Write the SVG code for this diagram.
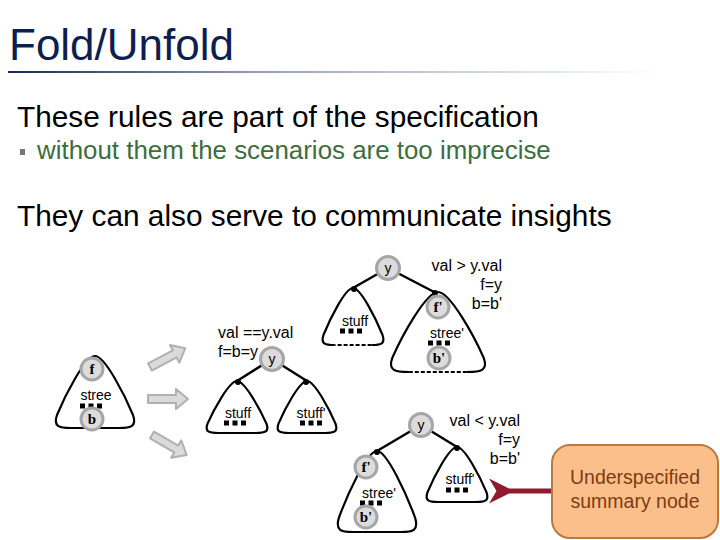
<svg xmlns="http://www.w3.org/2000/svg" xmlns:xlink="http://www.w3.org/1999/xlink" width="720" height="540" viewBox="0 0 720 540">
<style>
.title{font-family:"Liberation Sans",Arial,sans-serif;font-size:44px;fill:#0d1f4f}
.h1{font-family:"Liberation Sans",Arial,sans-serif;font-size:29.8px;fill:#000}
.h2{font-family:"Liberation Sans",Arial,sans-serif;font-size:25.9px;fill:#3d6e3d}
.tri{fill:none;stroke:#000;stroke-width:2.2;stroke-linejoin:round}
.dash{fill:none;stroke:#000;stroke-width:2.2;stroke-dasharray:4 2}
.lbl{font-family:"Liberation Sans",Arial,sans-serif;font-size:14px;fill:#000;text-anchor:middle}
.cond{font-family:"Liberation Sans",Arial,sans-serif;font-size:16px;fill:#000}
.nd{fill:#dcdcdc;stroke:#a6a6a6;stroke-width:3}
.nl{font-family:"Liberation Serif","Times New Roman",serif;font-weight:bold;font-size:15px;fill:#000;text-anchor:middle}
.ny{font-family:"Liberation Sans",Arial,sans-serif;font-size:14px;fill:#000;text-anchor:middle}
.edge{stroke:#000;stroke-width:2.5;fill:none}
.ga{fill:#dadada;stroke:#b0b0b0;stroke-width:2;stroke-linejoin:round}
.box{fill:#fbbf8c;stroke:#b87a3f;stroke-width:2}
.boxt{font-family:"Liberation Sans",Arial,sans-serif;font-size:19.5px;fill:#7b3d12;text-anchor:middle}
</style>
<defs>
<linearGradient id="ul" x1="0" y1="0" x2="1" y2="0">
<stop offset="0" stop-color="#1a2a50"/>
<stop offset="0.4" stop-color="#9aa4b8"/>
<stop offset="1" stop-color="#ffffff"/>
</linearGradient>
<g id="dots"><rect x="-11" y="-2.5" width="5" height="5"/><rect x="-2.5" y="-2.5" width="5" height="5"/><rect x="6" y="-2.5" width="5" height="5"/></g>
<polygon id="garrow" class="ga" points="0,-4 28,-4 28,-10 40,0 28,10 28,4 0,4"/>
<marker id="redhead" viewBox="0 0 10 10" refX="2" refY="5" markerWidth="5" markerHeight="5" orient="auto-start-reverse" markerUnits="strokeWidth">
<path d="M0,5 L10,0 L7,5 L10,10 Z" fill="#8e1b2e"/>
</marker>
</defs>
<rect width="720" height="540" fill="#fff"/>

<g id="header">
<text class="title" x="9" y="60">Fold/Unfold</text>
<rect x="8" y="71" width="650" height="2" fill="url(#ul)"/>
<text class="h1" x="17" y="127">These rules are part of the specification</text>
<rect x="20" y="149" width="5" height="6" fill="#6b7f6b"/>
<text class="h2" x="37" y="159">without them the scenarios are too imprecise</text>
<text class="h1" x="17" y="226">They can also serve to communicate insights</text>
</g>

<g id="connectors">
<line class="edge" x1="272" y1="359" x2="237" y2="381"/>
<line class="edge" x1="272" y1="359" x2="307" y2="381"/>
<circle cx="238" cy="382" r="3"/><circle cx="306" cy="382" r="3"/>
<line class="edge" x1="388" y1="268" x2="353" y2="288"/>
<line class="edge" x1="388" y1="268" x2="436" y2="293"/>
<circle cx="354" cy="289" r="3"/><circle cx="435" cy="293" r="3"/>
<line class="edge" x1="421" y1="425" x2="377" y2="451"/>
<line class="edge" x1="421" y1="425" x2="457" y2="447"/>
<circle cx="377" cy="452" r="3"/><circle cx="457" cy="448" r="3"/>
<use xlink:href="#garrow" href="#garrow" transform="translate(150,367) rotate(-28)"/>
<use xlink:href="#garrow" href="#garrow" transform="translate(148,399)"/>
<use xlink:href="#garrow" href="#garrow" transform="translate(152,435) rotate(30)"/>
<line x1="553" y1="491" x2="509" y2="491" stroke="#8e1b2e" stroke-width="5" marker-end="url(#redhead)"/>
</g>

<g id="node-stree">
<path class="tri" d="M95,356 C105,356 125,395.6 133,415 C137,426.6 131,428 119,428 L71,428 C59,428 53,426.6 57,415 C65,395.6 85,356 95,356Z"/>
<text class="lbl" x="96" y="400">stree</text>
<use xlink:href="#dots" href="#dots" x="91" y="406"/>
<circle class="nd" cx="92" cy="369" r="11"/><text class="nl" x="92" y="374">f</text>
<circle class="nd" cx="92" cy="419" r="11"/><text class="nl" x="92" y="424">b</text>
</g>

<g id="node-eq">
<text class="cond" x="218" y="338">val ==y.val</text>
<text class="cond" x="218" y="357">f=b=y</text>
<circle class="nd" cx="272" cy="359" r="11.5"/><text class="ny" x="272" y="363.5">y</text>
</g>
<g id="node-eq-left">
<path class="tri" d="M237,381 C244.75,381 260.25,409.6 266.45,423.6 C269.55,432 264.9,433 255.6,433 L218.4,433 C209.1,433 204.45,432 207.55,423.6 C213.75,409.6 229.25,381 237,381Z"/>
<text class="lbl" x="238" y="418">stuff</text>
<use xlink:href="#dots" href="#dots" x="235" y="423"/>
</g>
<g id="node-eq-right">
<path class="tri" d="M307,381 C314.5,381 329.5,409.6 335.5,423.6 C338.5,432 334,433 325,433 L289,433 C280,433 275.5,432 278.5,423.6 C284.5,409.6 299.5,381 307,381Z"/>
<text class="lbl" x="311" y="418">stuff'</text>
<use xlink:href="#dots" href="#dots" x="311" y="423"/>
</g>

<g id="node-gt">
<circle class="nd" cx="388" cy="268" r="11.5"/><text class="ny" x="388" y="272.5">y</text>
<text class="cond" x="502" y="271" text-anchor="end">val &gt; y.val</text>
<text class="cond" x="502" y="290" text-anchor="end">f=y</text>
<text class="cond" x="502" y="309" text-anchor="end">b=b'</text>
</g>
<g id="node-gt-left">
<path class="tri" d="M334.4,345 C325.1,345 320.45,343.86 323.55,334.74 C329.75,319.35 345.25,288 353,288 C360.75,288 376.25,319.35 382.45,334.74 C385.55,343.86 380.9,345 371.6,345"/>
<path class="dash" d="M371.6,345 L334.4,345"/>
<text class="lbl" x="355" y="326">stuff</text>
<use xlink:href="#dots" href="#dots" x="351" y="331"/>
</g>
<g id="node-gt-right">
<path class="tri" d="M409.2,372 C394.8,372 387.6,370.4 392.4,357.6 C402,336 426,292 438,292 C450,292 474,336 483.6,357.6 C488.4,370.4 481.2,372 466.8,372"/>
<path class="dash" d="M466.8,372 L409.2,372"/>
<text class="lbl" x="447" y="338">stree'</text>
<use xlink:href="#dots" href="#dots" x="439" y="343"/>
<circle class="nd" cx="438" cy="307" r="11"/><text class="nl" x="438" y="312">f'</text>
<circle class="nd" cx="439" cy="358" r="11"/><text class="nl" x="439" y="363">b'</text>
</g>

<g id="node-lt">
<circle class="nd" cx="421" cy="425" r="11.5"/><text class="ny" x="421" y="429.5">y</text>
<text class="cond" x="520" y="426" text-anchor="end">val &lt; y.val</text>
<text class="cond" x="520" y="445" text-anchor="end">f=y</text>
<text class="cond" x="520" y="464" text-anchor="end">b=b'</text>
</g>
<g id="node-lt-left">
<path class="tri" d="M377,451 C387,451 407,495.55 415,517.42 C419,530.38 413,532 401,532 L353,532 C341,532 335,530.38 339,517.42 C347,495.55 367,451 377,451Z"/>
<text class="lbl" x="379" y="498">stree'</text>
<use xlink:href="#dots" href="#dots" x="371" y="503"/>
<circle class="nd" cx="366" cy="467" r="11"/><text class="nl" x="366" y="472">f'</text>
<circle class="nd" cx="366" cy="517" r="11"/><text class="nl" x="366" y="522">b'</text>
</g>
<g id="node-lt-right">
<path class="tri" d="M457,447 C464.75,447 480.25,477.25 486.45,492.1 C489.55,500.9 484.9,502 475.6,502 L438.4,502 C429.1,502 424.45,500.9 427.55,492.1 C433.75,477.25 449.25,447 457,447Z"/>
<text class="lbl" x="460" y="484">stuff'</text>
<use xlink:href="#dots" href="#dots" x="457" y="490"/>
</g>

<g id="node-summary">
<rect class="box" x="552" y="445" width="166" height="93" rx="18"/>
<text class="boxt" x="635" y="484">Underspecified</text>
<text class="boxt" x="635" y="508">summary node</text>
</g>
</svg>
